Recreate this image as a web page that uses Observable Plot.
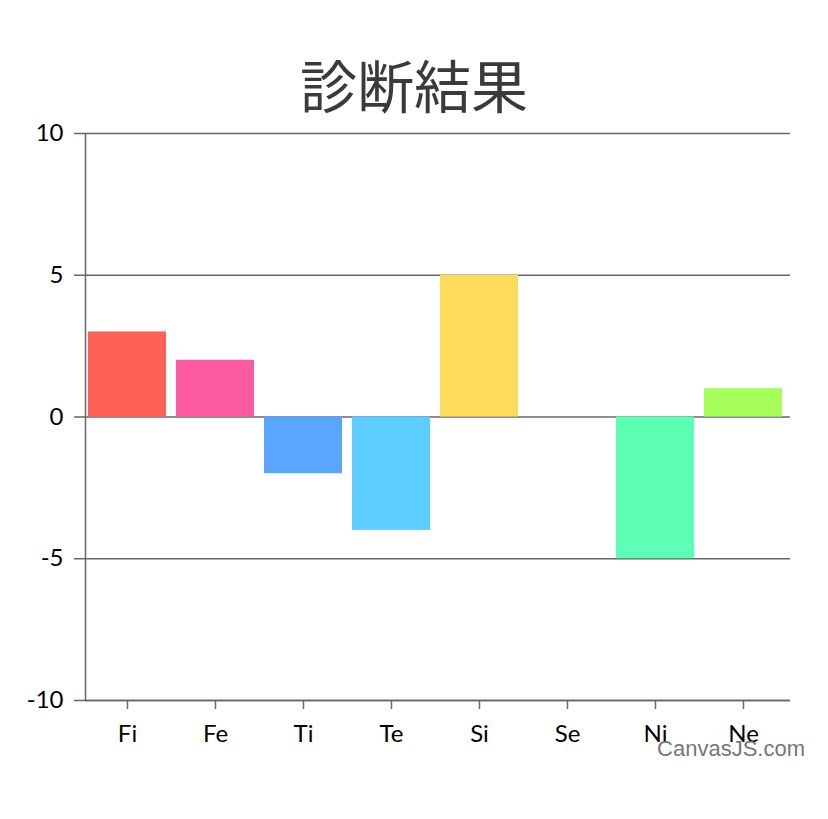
<!DOCTYPE html>
<html>
<head>
<meta charset="utf-8">
<script src="https://cdn.jsdelivr.net/npm/d3@7"></script>
<script src="https://cdn.jsdelivr.net/npm/@observablehq/plot@0.6"></script>
<style>
  html, body { margin: 0; padding: 0; background: #fff; }
  #wrap { position: relative; width: 828px; height: 819px; }
  #title { height: 118px; width: 828px; text-align: center; font-family: "Noto Sans CJK JP", sans-serif; font-size: 57px; color: #3a3a3a; line-height: 57px; box-sizing: border-box; }
  #title span { position: relative; top: 55px; }
  #credit { position: absolute; right: 23px; top: 737px; font-family: "Liberation Sans", Arial, sans-serif; font-size: 22px; color: #777; line-height: 24px; }
</style>
</head>
<body>
<div id="wrap">
  <div id="title"><span>診断結果</span></div>
  <div id="chart"></div>
  <div id="credit">CanvasJS.com</div>
</div>
<script>
const categories = ["Fi", "Fe", "Ti", "Te", "Si", "Se", "Ni", "Ne"];
const values = [3, 2, -2, -4, 5, 0, -5, 1];
const colors = ["#FF6156", "#FF5BA3", "#5AA6FF", "#5BCDFF", "#FCDC5A", "#B0B0B0", "#5DFFB4", "#A6FF58"];
const yTicks = [-10, -5, 0, 5, 10];

const data = categories.map((c, i) => ({cat: c, value: values[i], color: colors[i]}));

const chart = Plot.plot({
  width: 828,
  height: 701,
  marginLeft: 85,
  marginRight: 38,
  marginTop: 15,
  marginBottom: 119,
  style: {fontFamily: "Lato, 'Open Sans', sans-serif", fontSize: "24px", color: "#000", background: "transparent"},
  x: {domain: categories, paddingInner: 0.115, paddingOuter: 0.05, align: 0.3, label: null},
  y: {domain: [-10, 10], ticks: yTicks, label: null},
  marks: [
    Plot.gridY(yTicks, {stroke: "#666", strokeOpacity: 1, strokeWidth: 1.5}),
    Plot.barY(data, {x: "cat", y: "value", fill: "color"}),
    Plot.frame({anchor: "left", stroke: "#666", strokeWidth: 1.5}),
    Plot.axisY({ticks: yTicks, tickSize: 11, tickPadding: 11, tickFormat: d => String(d), stroke: "#666", strokeWidth: 1.5, fill: "#000", fontSize: 24, label: null}),
    Plot.axisX({tickSize: 9, tickPadding: 15, stroke: "#666", strokeWidth: 1.5, fill: "#000", fontSize: 24, label: null}),
    Plot.ruleY([-10], {stroke: "#666", strokeWidth: 1.5})
  ]
});
document.getElementById("chart").appendChild(chart);
</script>
</body>
</html>
